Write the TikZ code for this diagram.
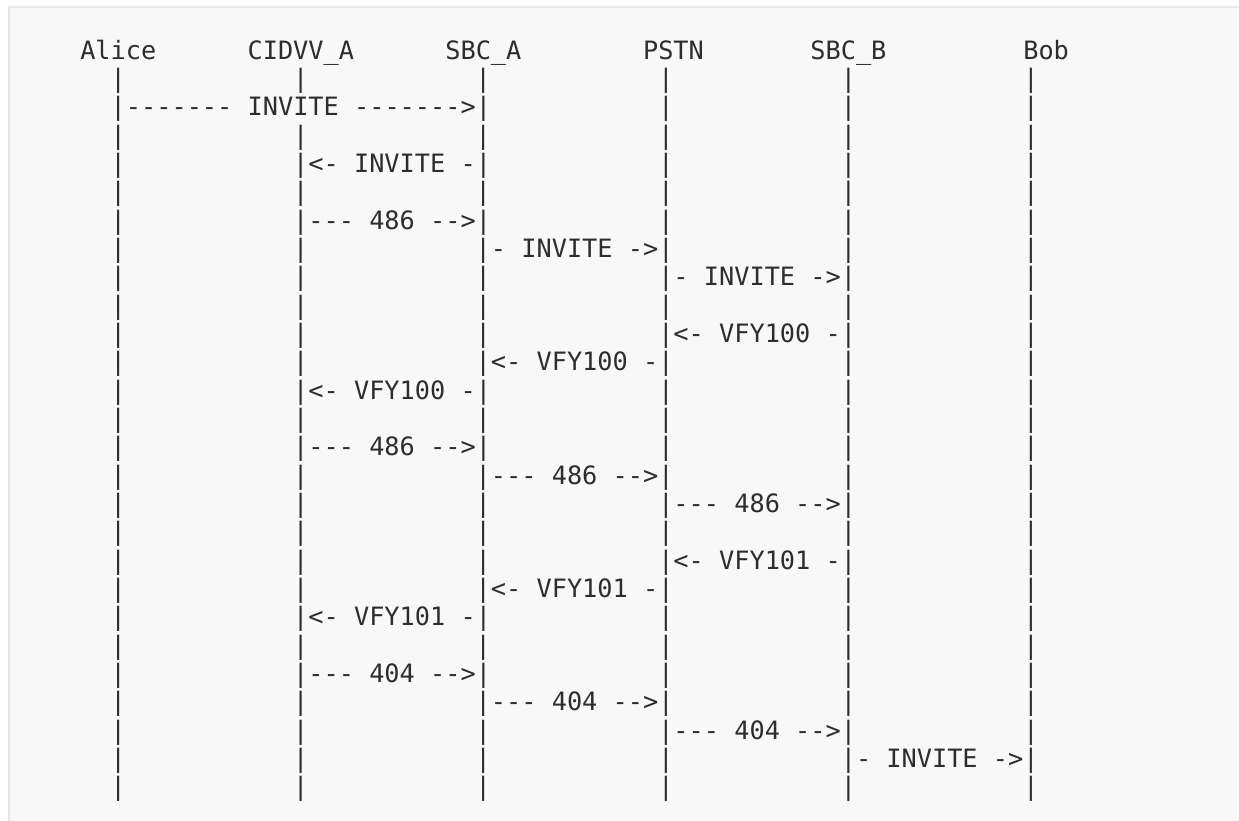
\documentclass[tikz,border=0pt]{standalone}
\usepackage{fontspec}
\setmonofont{DejaVu Sans Mono}
\definecolor{ink}{RGB}{45,45,45}
\definecolor{panel}{RGB}{248,248,248}
\definecolor{edge}{RGB}{232,232,232}
\newcommand\colx[1]{34.65+15.21*#1}
\newcommand\rowy[1]{59.2+28.33*#1}
\newcommand\msg[4]{\node[txt] (#1) at ({\colx{#2}},{\rowy{#3}}) {#4};}
\begin{document}
\begin{tikzpicture}[x=1pt,y=-1pt,
  txt/.style={font=\ttfamily\fontsize{25.27}{28.33}\selectfont\frenchspacing,
    text=ink, inner sep=0pt, outer sep=0pt, anchor=base west}]
\useasboundingbox (0,0) rectangle (1239,821);
\fill[white] (0,0) rectangle (1239,821);
\filldraw[fill=panel, draw=edge, line width=2pt] (8.5,7.5) rectangle (1260,840);
% header
\msg{hAlice}{3}{0}{Alice}
\msg{hCid}{14}{0}{CIDVV\_A}
\msg{hSbcA}{27}{0}{SBC\_A}
\msg{hPstn}{40}{0}{PSTN}
\msg{hSbcB}{51}{0}{SBC\_B}
\msg{hBob}{65}{0}{Bob}
% lifeline bars
\foreach \r/\cols in {1/{5,17,29,41,53,65}, 2/{41,53,65}, 3/{5,17,29,41,53,65},
  4/{5,41,53,65}, 5/{5,17,29,41,53,65}, 6/{5,41,53,65}, 7/{5,17,53,65},
  8/{5,17,29,65}, 9/{5,17,29,41,53,65}, 10/{5,17,29,65}, 11/{5,17,53,65},
  12/{5,41,53,65}, 13/{5,17,29,41,53,65}, 14/{5,41,53,65}, 15/{5,17,53,65},
  16/{5,17,29,65}, 17/{5,17,29,41,53,65}, 18/{5,17,29,65}, 19/{5,17,53,65},
  20/{5,41,53,65}, 21/{5,17,29,41,53,65}, 22/{5,41,53,65}, 23/{5,17,53,65},
  24/{5,17,29,65}, 25/{5,17,29,41}, 26/{5,17,29,41,53,65}}{
  \foreach \c in \cols {
    \node[txt] (bar-\r-\c) at ({\colx{\c}},{\rowy{\r}}) {|};
  }
}
% messages
\msg{m2}{5}{2}{|------- INVITE ------->|}
\msg{m4}{17}{4}{|<- INVITE -|}
\msg{m6}{17}{6}{|--- 486 -->|}
\msg{m7}{29}{7}{|- INVITE ->|}
\msg{m8}{41}{8}{|- INVITE ->|}
\msg{m10}{41}{10}{|<- VFY100 -|}
\msg{m11}{29}{11}{|<- VFY100 -|}
\msg{m12}{17}{12}{|<- VFY100 -|}
\msg{m14}{17}{14}{|--- 486 -->|}
\msg{m15}{29}{15}{|--- 486 -->|}
\msg{m16}{41}{16}{|--- 486 -->|}
\msg{m18}{41}{18}{|<- VFY101 -|}
\msg{m19}{29}{19}{|<- VFY101 -|}
\msg{m20}{17}{20}{|<- VFY101 -|}
\msg{m22}{17}{22}{|--- 404 -->|}
\msg{m23}{29}{23}{|--- 404 -->|}
\msg{m24}{41}{24}{|--- 404 -->|}
\msg{m25}{53}{25}{|- INVITE ->|}
\end{tikzpicture}
\end{document}
